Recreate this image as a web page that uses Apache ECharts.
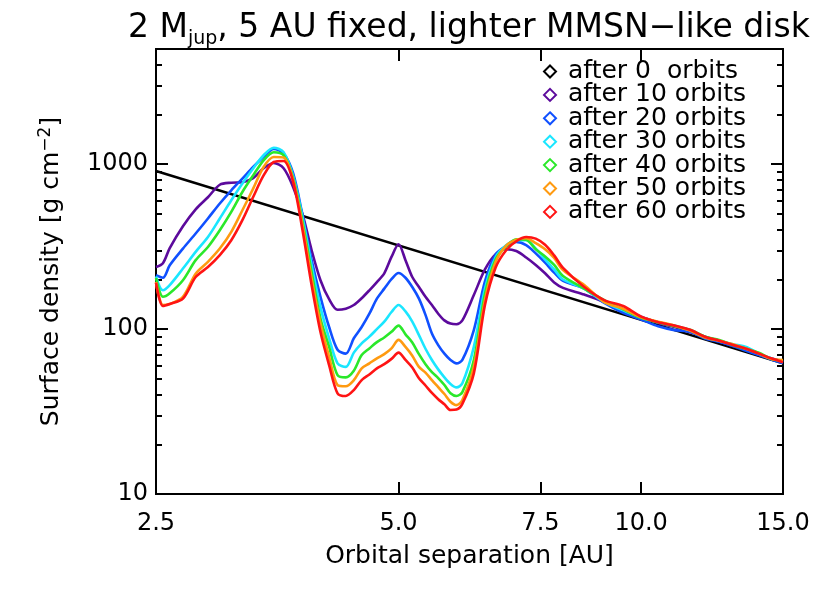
<!DOCTYPE html>
<html>
<head>
<meta charset="utf-8">
<script src="https://cdn.jsdelivr.net/npm/echarts@6/dist/echarts.min.js"></script>
<style>
html, body { margin: 0; padding: 0; background: #fff; }
#chart { width: 830px; height: 593px; }
</style>
</head>
<body>
<div id="chart"></div>
<script>
// orbital separation [AU]
var radius = [2.5, 2.55, 2.6, 2.7, 2.8, 2.9, 3.0, 3.1, 3.2, 3.3, 3.4, 3.5, 3.6, 3.7, 3.8, 3.9, 4.0, 4.1,
    4.2, 4.3, 4.4, 4.5, 4.6, 4.7, 4.8, 4.9, 5.0, 5.1, 5.2, 5.3, 5.4, 5.5, 5.6, 5.7, 5.8, 5.9, 6.0,
    6.2, 6.4, 6.6, 6.8, 7.0, 7.2, 7.4, 7.6, 7.8, 8.0, 8.5, 9.0, 9.5, 10, 10.5, 11, 11.5, 12, 12.5, 13, 13.5, 14, 14.5, 15];

// surface density [g cm^-2]
var orbits10 = [238, 251, 310, 421, 533, 631, 751, 773, 778, 823, 946, 1018, 946, 726, 498, 301, 198, 152,
    131, 133, 140, 154, 172, 193, 218, 274, 327, 262, 207, 180, 157, 140, 124, 113, 108, 107, 113,
    161, 230, 285, 305, 298, 272, 245, 218, 192, 178, 162, 146, 127, 119, 109, 103, 96, 90, 84, 79, 75, 70, 66.5, 63.4];
var orbits20 = [212, 205, 244, 308, 380, 469, 578, 695, 819, 963, 1107, 1240, 1161, 879, 491, 262, 157, 103,
    75, 71, 88, 103, 124, 153, 176, 201, 219, 205, 180, 153, 122, 94, 80, 71, 65, 62, 65,
    98.6, 195, 284, 319, 338, 323, 288, 253, 220, 196, 176, 144, 125.5, 114.5, 104, 98.6, 96.3, 87.8, 83.7, 78.9, 73.9, 69.6, 65.5, 62.3];
var orbits30 = [209, 172, 185, 233, 294, 362, 469, 605, 764, 942, 1134, 1259, 1183, 845, 479, 244, 136, 88,
    62, 59, 72, 82, 90, 100, 111, 127, 140, 128, 111, 92, 76, 65, 57, 51, 46.5, 44.3, 46.9,
    78, 176, 274, 323, 346, 346, 308, 265, 230, 200, 176, 146, 130, 117.5, 110, 105, 98.6, 89.8, 85, 81, 78, 71.2, 66.5, 63.4];
var orbits40 = [204, 157, 165, 198, 262, 315, 398, 514, 679, 855, 1057, 1183, 1134, 821, 447, 222, 116, 78,
    52.6, 51, 56, 69.6, 76.4, 83.4, 89, 96.3, 105, 93, 83, 70.5, 61.3, 54.9, 50.5, 45.8, 40.8, 39.3, 41.5,
    64.9, 163, 265, 318, 351, 348, 305, 276, 245, 210, 176, 150, 132, 117, 110, 104, 99, 90, 86, 80, 76, 72, 66, 64];
var orbits50 = [193, 140, 142, 157, 217, 256, 308, 389, 526, 711, 963, 1107, 1100, 800, 427, 203, 108, 68,
    45.8, 45, 49, 57.8, 62, 66.5, 70.5, 76.4, 86, 78, 69, 59, 54.5, 49.1, 44.5, 40.4, 36.3, 34.6, 37.1,
    59, 150, 256, 321, 349, 356, 332, 305, 270, 228, 185, 146, 133, 118, 111, 105, 98, 89, 85, 81, 76, 71, 66, 65];
var orbits60 = [191, 138, 142, 153, 207, 238, 281, 346, 458, 633, 855, 1032, 1047, 780, 398, 185, 96, 60.5,
    40.8, 39.3, 42.7, 49.1, 53.1, 57.8, 61.3, 66, 72, 65, 58.5, 50.3, 45.5, 41, 37.6, 35, 32.3, 32.5, 35.2,
    53.9, 140, 237, 301, 341, 362, 354, 325, 280, 235, 180, 150, 138, 119, 110, 105, 99, 90, 85, 80, 76, 71, 66.5, 63];

// initial power-law profile (straight line on log-log axes)
var orbits0 = [[2.5, 910], [15, 62]];

var seriesNames = ['after 0  orbits', 'after 10 orbits', 'after 20 orbits', 'after 30 orbits',
    'after 40 orbits', 'after 50 orbits', 'after 60 orbits'];
var seriesColors = ['#000000', '#5c0a9c', '#1050ff', '#1ae6ff', '#2ae82a', '#ff9a10', '#ff1414'];

var xTickLabels = [2.5, 5, 7.5, 10, 15];
var xTicks = [5, 7.5, 10];
var yTickLabels = [10, 100, 1000];
var yMinorTicks = [20, 30, 40, 50, 60, 70, 80, 90, 200, 300, 400, 500, 600, 700, 800, 900, 2000, 3000, 4000];

var FONT = 'DejaVu Sans';

function pairs(vals) {
    var out = [];
    for (var i = 0; i < radius.length; i++) {
        out.push([radius[i], vals[i]]);
    }
    return out;
}

function xAxisDef(pos, labels) {
    return {
        type: 'log', logBase: 10, min: 2.5, max: 15, position: pos,
        axisLine: { show: true, onZero: false, lineStyle: { color: '#000', width: 2 } },
        axisTick: { show: true, inside: true, length: 12, customValues: xTicks, lineStyle: { color: '#000', width: 2 } },
        axisLabel: labels ? {
            show: true, customValues: xTickLabels, margin: 18,
            fontFamily: FONT, fontSize: 24, color: '#000',
            formatter: function (v) { return Number(v).toFixed(1); }
        } : { show: false },
        minorTick: { show: false }, splitLine: { show: false }, minorSplitLine: { show: false },
        name: labels ? 'Orbital separation [AU]' : '',
        nameLocation: 'middle', nameGap: 50,
        nameTextStyle: { fontFamily: FONT, fontSize: 25, color: '#000' }
    };
}

function yAxisDef(pos, ticks, len, labels) {
    return {
        type: 'log', logBase: 10, min: 10, max: 5000, position: pos,
        axisLine: { show: true, onZero: false, lineStyle: { color: '#000', width: 2 } },
        axisTick: { show: true, inside: true, length: len, customValues: ticks, lineStyle: { color: '#000', width: 2 } },
        axisLabel: labels ? {
            show: true, customValues: yTickLabels, margin: 8,
            fontFamily: FONT, fontSize: 24, color: '#000',
            formatter: function (v) { return String(Math.round(v)); }
        } : { show: false },
        minorTick: { show: false }, splitLine: { show: false }, minorSplitLine: { show: false },
        name: labels ? 'Surface density [g cm{sup|−2}]' : '',
        nameLocation: 'middle', nameGap: 90, nameRotate: 90,
        nameTextStyle: {
            fontFamily: FONT, fontSize: 25, color: '#000',
            rich: { sup: { fontFamily: FONT, fontSize: 17, color: '#000', padding: [0, 0, 12, 0] } }
        }
    };
}

var allSeries = [{
    name: seriesNames[0], type: 'line', data: orbits0, showSymbol: false, symbol: 'none',
    lineStyle: { color: seriesColors[0], width: 2.4 }, itemStyle: { color: seriesColors[0] }
}];
var curves = [orbits10, orbits20, orbits30, orbits40, orbits50, orbits60];
for (var k = 0; k < curves.length; k++) {
    allSeries.push({
        name: seriesNames[k + 1], type: 'line', data: pairs(curves[k]),
        showSymbol: false, symbol: 'none', smooth: 0.3,
        lineStyle: { color: seriesColors[k + 1], width: 2.6 },
        itemStyle: { color: seriesColors[k + 1] }
    });
}

var chart = echarts.init(document.getElementById('chart'), null, { renderer: 'canvas' });
chart.setOption({
    animation: false,
    backgroundColor: '#fff',
    title: {
        text: '2 M{sub|jup}, 5 AU fixed, lighter MMSN−like disk',
        left: 123, top: 2,
        textStyle: {
            fontFamily: FONT, fontSize: 33, fontWeight: 'normal', color: '#000',
            rich: { sub: { fontFamily: FONT, fontSize: 19, color: '#000', padding: [23, 0, 0, 0] } }
        }
    },
    legend: {
        orient: 'vertical', left: 538, top: 54, itemGap: -1.6,
        itemWidth: 12, itemHeight: 12, icon: 'emptyDiamond',
        textStyle: { fontFamily: FONT, fontSize: 25, color: '#000', lineHeight: 23.2, padding: [0, 0, 0, 7] },
        data: seriesNames
    },
    grid: { left: 156, right: 47, top: 49, bottom: 99, containLabel: false },
    xAxis: [xAxisDef('bottom', true), xAxisDef('top', false)],
    yAxis: [
        yAxisDef('left', yTickLabels, 12, true),
        yAxisDef('left', yMinorTicks, 6, false),
        yAxisDef('right', yTickLabels, 12, false),
        yAxisDef('right', yMinorTicks, 6, false)
    ],
    series: allSeries
});
</script>
</body>
</html>
